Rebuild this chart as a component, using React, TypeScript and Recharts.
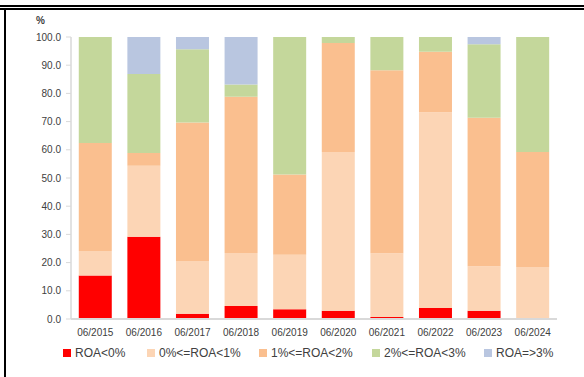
import React from "react";
import { BarChart, Bar, XAxis, YAxis, Legend } from "recharts";

const categories = ["06/2015", "06/2016", "06/2017", "06/2018", "06/2019", "06/2020", "06/2021", "06/2022", "06/2023", "06/2024"];
const roaNeg = [15.4, 29.2, 1.9, 4.6, 3.5, 2.9, 0.7, 3.9, 2.9, 0];
const roa0to1 = [8.7, 25.1, 18.7, 18.8, 19.3, 56.3, 22.6, 69.4, 15.8, 18.4];
const roa1to2 = [38.3, 4.6, 49.1, 55.4, 28.4, 38.7, 64.9, 21.5, 52.7, 40.8];
const roa2to3 = [37.6, 28.0, 26.0, 4.4, 48.8, 2.1, 11.8, 5.2, 26.0, 40.8];
const roa3plus = [0, 13.1, 4.3, 16.8, 0, 0, 0, 0, 2.6, 0];
const yTicks = [0, 10, 20, 30, 40, 50, 60, 70, 80, 90, 100];

const seriesNames = ["ROA<0%", "0%<=ROA<1%", "1%<=ROA<2%", "2%<=ROA<3%", "ROA=>3%"];
const seriesKeys = ["neg", "r01", "r12", "r23", "r3p"];
const seriesColors = ["#FF0000", "#FCD5B5", "#FABF8F", "#C4D79B", "#B9C6E0"];
const seriesValues = [roaNeg, roa0to1, roa1to2, roa2to3, roa3plus];

const data = categories.map((c, i) => {
  const row: Record<string, string | number> = { name: c };
  seriesKeys.forEach((k, s) => {
    row[k] = seriesValues[s][i];
  });
  return row;
});

const legendWidths = [84, 112, 113, 112, 90];

const LegendContent = () => (
  <div style={{ display: "flex", alignItems: "center", paddingLeft: 63, height: 16 }}>
    {seriesNames.map((n, i) => (
      <div key={n} style={{ display: "flex", alignItems: "center", width: legendWidths[i] }}>
        <span style={{ display: "inline-block", width: 8, height: 8, background: seriesColors[i], marginRight: 4 }} />
        <span style={{ fontSize: 12, color: "#404040", whiteSpace: "nowrap", lineHeight: "16px" }}>{n}</span>
      </div>
    ))}
  </div>
);

export default function App() {
  return (
    <div
      style={{
        position: "absolute",
        left: 0,
        top: 0,
        width: 584,
        height: 377,
        background: "#fff",
        fontFamily: "'Liberation Sans', Arial, sans-serif",
        overflow: "hidden",
      }}
    >
      <div style={{ position: "absolute", left: 0, top: 5, width: 584, height: 2, background: "#000" }} />
      <div style={{ position: "absolute", left: 0, top: 8, width: 584, height: 1.5, background: "#000" }} />
      <div style={{ position: "absolute", left: 4, top: 8, width: 2, height: 369, background: "#000" }} />
      <div
        style={{
          position: "absolute",
          left: 36,
          top: 15,
          fontSize: 10,
          fontWeight: "bold",
          color: "#404040",
        }}
      >
        %
      </div>
      <div style={{ position: "absolute", left: 0, top: 0 }}>
        <BarChart
          width={584}
          height={377}
          data={data}
          margin={{ top: 37, right: 27, left: 0, bottom: 28 }}
          barCategoryGap="16%"
        >
          <XAxis
            dataKey="name"
            tickLine={false}
            axisLine={{ stroke: "#D9D9D9", strokeWidth: 2 }}
            tick={{ fontSize: 10, fill: "#404040" }}
            tickMargin={4}
            height={30}
            interval={0}
          />
          <YAxis
            width={71}
            domain={[0, 100]}
            ticks={yTicks}
            tickFormatter={(v: number) => v.toFixed(1)}
            axisLine={{ stroke: "#D9D9D9", strokeWidth: 1.5 }}
            tickLine={{ stroke: "#D9D9D9" }}
            tickSize={5}
            tickMargin={5}
            tick={{ fontSize: 10, fill: "#404040" }}
            allowDataOverflow
          />
          <Legend
            layout="horizontal"
            verticalAlign="middle"
            align="center"
            content={<LegendContent />}
            wrapperStyle={{ position: "absolute", top: 345, left: 0, width: 584 }}
          />
          {seriesKeys.map((k, i) => (
            <Bar
              key={k}
              dataKey={k}
              name={seriesNames[i]}
              stackId="a"
              fill={seriesColors[i]}
              isAnimationActive={false}
            />
          ))}
        </BarChart>
      </div>
    </div>
  );
}
